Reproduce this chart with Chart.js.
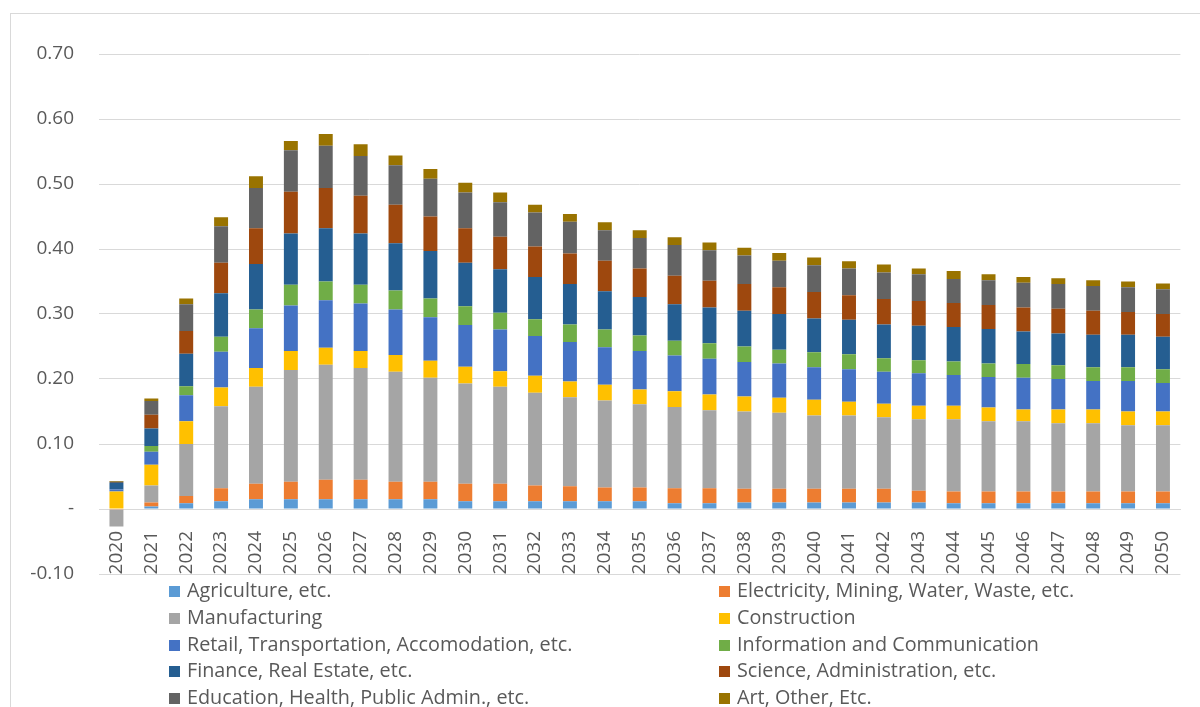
<!DOCTYPE html>
<html>
<head>
<meta charset="utf-8">
<script src="https://cdn.jsdelivr.net/npm/chart.js@4.4.0/dist/chart.umd.min.js"></script>
<style>
  html, body { margin: 0; padding: 0; background: #fff; }
  #wrap { position: relative; width: 1200px; height: 707px; overflow: hidden; }
  #frame { position: absolute; left: 10px; top: 13px; width: 1220px; height: 720px; border: 1px solid #d9d9d9; box-sizing: border-box; }
  #chart { position: absolute; left: 0; top: 0; }
  .item { position: absolute; font-family: "Open Sans", sans-serif; font-size: 19.8px; color: #595959; white-space: nowrap; line-height: 26px; }
  .item span.box { display: inline-block; width: 11px; height: 11px; margin-right: 7px; vertical-align: 0px; }
</style>
</head>
<body>
<div id="wrap">
  <div id="frame"></div>
  <canvas id="chart" width="1200" height="707"></canvas>
  <div id="legend"></div>
</div>
<script>
// years on the category axis
const years = [];
for (let y = 2020; y <= 2050; y++) years.push(String(y));

const sectors = [
  "Agriculture, etc.",
  "Electricity, Mining, Water, Waste, etc.",
  "Manufacturing",
  "Construction",
  "Retail, Transportation, Accomodation, etc.",
  "Information and Communication",
  "Finance, Real Estate, etc.",
  "Science, Administration, etc.",
  "Education, Health, Public Admin., etc.",
  "Art, Other, Etc."
];

const colors = ["#5B9BD5", "#ED7D31", "#A5A5A5", "#FFC000", "#4472C4", "#70AD47", "#255E91", "#9E480E", "#636363", "#997300"];

// values, 2020 .. 2050
const agriculture = [0.000, 0.004, 0.009, 0.012, 0.015, 0.015, 0.015, 0.015, 0.015, 0.015, 0.012, 0.012, 0.012, 0.012, 0.012, 0.012,
  0.009, 0.009, 0.010, 0.010, 0.010, 0.010, 0.010, 0.010, 0.009, 0.009, 0.009, 0.009, 0.009, 0.009, 0.009];
const electricity = [-0.001, 0.006, 0.011, 0.020, 0.024, 0.027, 0.030, 0.030, 0.027, 0.027, 0.027, 0.027, 0.024, 0.023, 0.021, 0.021,
  0.023, 0.023, 0.021, 0.021, 0.021, 0.021, 0.021, 0.018, 0.018, 0.018, 0.018, 0.018, 0.018, 0.018, 0.018];
const manufacturing = [-0.026, 0.026, 0.080, 0.126, 0.149, 0.172, 0.177, 0.172, 0.169, 0.160, 0.154, 0.149, 0.143, 0.137, 0.134, 0.128,
  0.125, 0.120, 0.119, 0.117, 0.113, 0.113, 0.110, 0.110, 0.111, 0.108, 0.108, 0.105, 0.105, 0.102, 0.102];
const construction = [0.027, 0.032, 0.035, 0.029, 0.029, 0.029, 0.026, 0.026, 0.026, 0.026, 0.026, 0.024, 0.026, 0.024, 0.024, 0.023,
  0.024, 0.024, 0.023, 0.023, 0.024, 0.021, 0.021, 0.021, 0.021, 0.021, 0.018, 0.021, 0.021, 0.021, 0.021];
const retail = [0.003, 0.020, 0.040, 0.055, 0.061, 0.070, 0.073, 0.073, 0.070, 0.067, 0.064, 0.064, 0.061, 0.061, 0.058, 0.059,
  0.055, 0.055, 0.053, 0.053, 0.050, 0.050, 0.049, 0.050, 0.047, 0.047, 0.049, 0.047, 0.044, 0.047, 0.044];
const infoComm = [0.000, 0.009, 0.014, 0.023, 0.029, 0.032, 0.029, 0.029, 0.029, 0.029, 0.029, 0.026, 0.026, 0.027, 0.027, 0.024,
  0.023, 0.024, 0.024, 0.021, 0.023, 0.023, 0.021, 0.020, 0.021, 0.021, 0.021, 0.021, 0.021, 0.021, 0.021];
const finance = [0.010, 0.027, 0.050, 0.067, 0.070, 0.079, 0.082, 0.079, 0.073, 0.073, 0.067, 0.067, 0.065, 0.062, 0.059, 0.059,
  0.056, 0.055, 0.055, 0.055, 0.052, 0.053, 0.052, 0.053, 0.053, 0.053, 0.050, 0.049, 0.050, 0.050, 0.050];
const science = [0.000, 0.021, 0.035, 0.047, 0.055, 0.064, 0.062, 0.058, 0.059, 0.053, 0.053, 0.050, 0.047, 0.047, 0.047, 0.044,
  0.044, 0.041, 0.041, 0.041, 0.041, 0.038, 0.039, 0.038, 0.037, 0.037, 0.037, 0.038, 0.037, 0.035, 0.035];
const education = [0.002, 0.021, 0.041, 0.056, 0.062, 0.064, 0.065, 0.061, 0.061, 0.058, 0.055, 0.053, 0.052, 0.049, 0.047, 0.047,
  0.047, 0.047, 0.044, 0.041, 0.041, 0.041, 0.041, 0.041, 0.037, 0.038, 0.038, 0.038, 0.038, 0.038, 0.038];
const art = [0.001, 0.004, 0.009, 0.014, 0.018, 0.014, 0.018, 0.018, 0.015, 0.015, 0.015, 0.015, 0.012, 0.012, 0.012, 0.012,
  0.012, 0.012, 0.012, 0.012, 0.012, 0.011, 0.012, 0.009, 0.012, 0.009, 0.009, 0.009, 0.009, 0.009, 0.009];

const yTicks = [-0.1, 0, 0.1, 0.2, 0.3, 0.4, 0.5, 0.6, 0.7];

const series = [agriculture, electricity, manufacturing, construction, retail, infoComm, finance, science, education, art];

const textColor = "#595959";
const gridColor = "#d9d9d9";

const chart = new Chart(document.getElementById("chart"), {
  type: "bar",
  data: {
    labels: years,
    datasets: series.map((vals, i) => ({
      label: sectors[i],
      data: vals,
      backgroundColor: colors[i],
      borderWidth: 0,
      categoryPercentage: 1,
      barPercentage: 0.4
    }))
  },
  options: {
    responsive: false,
    animation: false,
    layout: { padding: { top: 54, bottom: 133, left: 0, right: 15 } },
    plugins: {
      legend: { display: false },
      tooltip: { enabled: false }
    },
    scales: {
      x: {
        stacked: true,
        position: { y: 0 },
        grid: { display: false },
        border: { color: gridColor },
        ticks: {
          autoSkip: false,
          minRotation: 90,
          maxRotation: 90,
          padding: 14,
          color: textColor,
          font: { family: "Open Sans", size: 19 }
        }
      },
      y: {
        stacked: true,
        min: -0.1,
        max: 0.7,
        afterFit: (scale) => { scale.width = 99; },
        afterBuildTicks: (scale) => { scale.ticks = yTicks.map(v => ({ value: v })); },
        grid: { color: gridColor, drawTicks: false },
        border: { display: false },
        ticks: {
          padding: 25,
          color: textColor,
          font: { family: "Open Sans", size: 19 },
          callback: (v) => Math.abs(v) < 1e-9 ? "-" : v.toFixed(2)
        }
      }
    }
  }
});

// two column legend like the original
const legend = document.getElementById("legend");
sectors.forEach((name, i) => {
  const item = document.createElement("div");
  item.className = "item";
  const col = i % 2, row = Math.floor(i / 2);
  item.style.left = (col === 0 ? 169 : 719) + "px";
  item.style.top = (577 + row * 26.8) + "px";
  const box = document.createElement("span");
  box.className = "box";
  box.style.background = colors[i];
  item.appendChild(box);
  item.appendChild(document.createTextNode(name));
  legend.appendChild(item);
});
</script>
</body>
</html>
